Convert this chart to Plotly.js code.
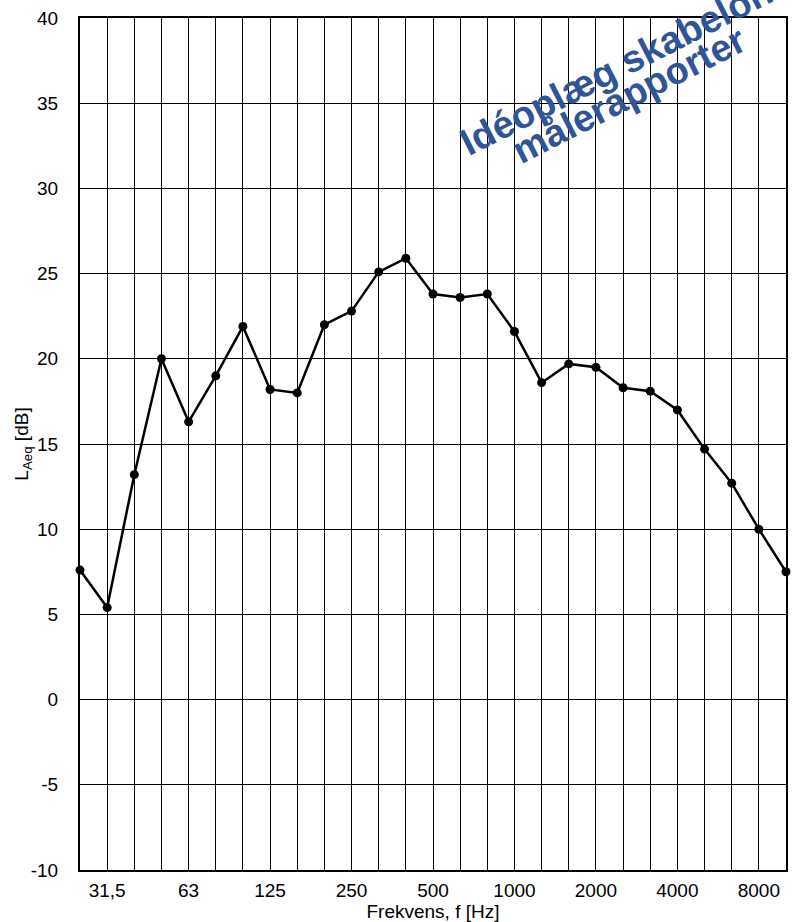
<!DOCTYPE html>
<html>
<head>
<meta charset="utf-8">
<script src="https://cdn.plot.ly/plotly-3.0.1.min.js"></script>
<style>html,body{margin:0;padding:0;background:#fff;}#chart{width:792px;height:922px;}</style>
</head>
<body>
<div id="chart"></div>
<script>
// Third-octave band centre frequencies (Hz)
const bands = ["25","31,5","40","50","63","80","100","125","160","200","250","315","400","500","630","800","1000","1250","1600","2000","2500","3150","4000","5000","6300","8000","10000"];
// Measured LAeq per band (dB)
const levels = [7.6,5.4,13.2,20.0,16.3,19.0,21.9,18.2,18.0,22.0,22.8,25.1,25.9,23.8,23.6,23.8,21.6,18.6,19.7,19.5,18.3,18.1,17.0,14.7,12.7,10.0,7.5];
// Bands that carry a tick label
const labeledBands = ["31,5","63","125","250","500","1000","2000","4000","8000"];
const yTicks = [-10,-5,0,5,10,15,20,25,30,35,40];
const watermarkLines = ["Idéoplæg skabelon","målerapporter"];

const idx = bands.map((_, i) => i);
const tickText = bands.map(b => labeledBands.includes(b) ? b : "");
const yTickText = yTicks.map(v => String(v));

const font = "Liberation Sans, Arial, sans-serif";

const trace = {
  x: idx, y: levels, type: "scatter", mode: "lines+markers",
  line: {color: "#000", width: 2.5},
  marker: {color: "#000", size: 9},
  cliponaxis: false, hoverinfo: "skip"
};

const layout = {
  width: 792, height: 922,
  margin: {l: 80, r: 6, t: 18, b: 52},
  paper_bgcolor: "#fff", plot_bgcolor: "#fff",
  showlegend: false,
  font: {family: font, size: 19, color: "#000"},
  xaxis: {
    range: [0, bands.length - 1], tickmode: "array", tickvals: idx, ticktext: tickText,
    showgrid: true, gridcolor: "#000", gridwidth: 1,
    showline: true, linecolor: "#000", linewidth: 2, mirror: true,
    ticks: "", zeroline: false, ticklabelstandoff: 2,
    tickfont: {family: font, size: 19, color: "#000"},
    title: {text: "Frekvens, f [Hz]", font: {family: font, size: 19, color: "#000"}, standoff: 0}
  },
  yaxis: {
    range: [-10, 40], tickmode: "array", tickvals: yTicks, ticktext: yTickText,
    showgrid: true, gridcolor: "#000", gridwidth: 1,
    showline: true, linecolor: "#000", linewidth: 2, mirror: true,
    ticks: "", zeroline: false, ticklabelstandoff: 16,
    tickfont: {family: font, size: 19, color: "#000"},
    title: {text: "L<sub>Aeq</sub> [dB]", font: {family: font, size: 19, color: "#000"}}
  },
  annotations: [
    {text: watermarkLines[0], xref: "paper", yref: "paper", x: 0.759, y: 0.943,
     xanchor: "center", yanchor: "middle", showarrow: false, textangle: -27,
     font: {family: font, size: 38, color: "#2F5597", weight: "bold"}},
    {text: watermarkLines[1], xref: "paper", yref: "paper", x: 0.777, y: 0.910,
     xanchor: "center", yanchor: "middle", showarrow: false, textangle: -27,
     font: {family: font, size: 38, color: "#2F5597", weight: "bold"}}
  ]
};

Plotly.newPlot("chart", [trace], layout, {staticPlot: true});
</script>
</body>
</html>
